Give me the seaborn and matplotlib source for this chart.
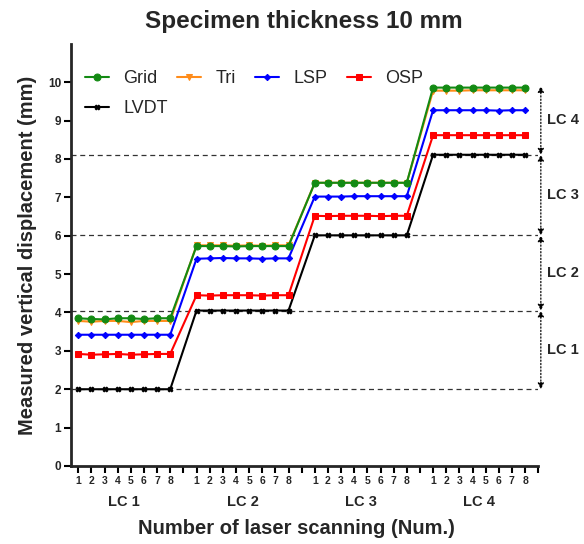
import numpy as np
import pandas as pd
import matplotlib
matplotlib.use("Agg")
import matplotlib.pyplot as plt
import seaborn as sns

# ---------------- data ----------------
load_cases = ["LC 1", "LC 2", "LC 3", "LC 4"]
scans = [1, 2, 3, 4, 5, 6, 7, 8]

grid = [3.85, 3.83, 3.82, 3.85, 3.85, 3.83, 3.85, 3.85,
        5.73, 5.73, 5.73, 5.72, 5.73, 5.73, 5.73, 5.73,
        7.38, 7.38, 7.38, 7.38, 7.38, 7.38, 7.38, 7.38,
        9.86, 9.86, 9.86, 9.86, 9.86, 9.86, 9.86, 9.86]
tri = [3.78, 3.76, 3.78, 3.78, 3.75, 3.78, 3.78, 3.78,
       5.75, 5.75, 5.75, 5.74, 5.75, 5.74, 5.75, 5.75,
       7.38, 7.38, 7.38, 7.38, 7.38, 7.38, 7.38, 7.38,
       9.78, 9.78, 9.78, 9.79, 9.79, 9.79, 9.79, 9.79]
lsp = [3.42, 3.42, 3.42, 3.42, 3.42, 3.42, 3.42, 3.42,
       5.40, 5.41, 5.42, 5.41, 5.41, 5.40, 5.41, 5.41,
       7.02, 7.02, 7.02, 7.03, 7.03, 7.03, 7.03, 7.03,
       9.27, 9.27, 9.27, 9.27, 9.27, 9.26, 9.27, 9.27]
osp = [2.92, 2.90, 2.91, 2.92, 2.90, 2.91, 2.92, 2.92,
       4.45, 4.44, 4.45, 4.45, 4.45, 4.44, 4.45, 4.45,
       6.52, 6.51, 6.52, 6.52, 6.52, 6.51, 6.52, 6.52,
       8.62, 8.62, 8.62, 8.62, 8.62, 8.62, 8.62, 8.62]
lvdt = [2.00, 2.00, 2.00, 2.00, 2.00, 2.00, 2.00, 2.00,
        4.05, 4.05, 4.05, 4.05, 4.05, 4.05, 4.05, 4.05,
        6.01, 6.01, 6.01, 6.01, 6.01, 6.01, 6.01, 6.01,
        8.11, 8.11, 8.11, 8.11, 8.11, 8.11, 8.11, 8.11]

series_names = ["Grid", "Tri", "LSP", "OSP", "LVDT"]
series_values = [grid, tri, lsp, osp, lvdt]
lc_levels = [2.00, 4.05, 6.01, 8.11, 9.90]   # bounds for the LC arrows

# ---------------- styling ----------------
colors = {"Grid": "#138a13", "Tri": "#ff8c1a", "LSP": "#0000ff",
          "OSP": "#ff0000", "LVDT": "#000000"}
markers = {"Grid": "o", "Tri": "v", "LSP": "D", "OSP": "s", "LVDT": "X"}
msizes = {"Grid": 5, "Tri": 5, "LSP": 3.2, "OSP": 5, "LVDT": 3.5}

sns.set_style("ticks")
plt.rcParams["font.family"] = ["Liberation Sans", "DejaVu Sans"]

# long-format table
rows = []
for name, vals in zip(series_names, series_values):
    for i, v in enumerate(vals):
        g, s = divmod(i, 8)
        rows.append({"series": name, "lc": g, "scan": scans[s],
                     "pos": g * 9 + scans[s], "value": v})
df = pd.DataFrame(rows)

fig = plt.figure(figsize=(5.84, 5.44), dpi=100)
ax = fig.add_axes([0.1216, 0.1434, 0.800, 0.776])

draw_order = ["LVDT", "OSP", "LSP", "Tri", "Grid"]
for name in draw_order:
    sub = df[df["series"] == name]
    sns.lineplot(data=sub, x="pos", y="value", ax=ax, color=colors[name],
                 marker=markers[name], markersize=msizes[name],
                 markeredgecolor=colors[name], linewidth=1.5,
                 label=name, legend=False, estimator=None, sort=True)

# dashed reference lines at LVDT levels
for lvl in lc_levels[:4]:
    ax.axhline(lvl, color="#333333", linestyle=(0, (4, 3)), linewidth=0.9, zorder=0)

ax.set_xlim(0.45, 35.8)
ax.set_ylim(0, 11)
ax.set_yticks(range(0, 11))
ax.set_yticklabels([str(v) for v in range(0, 11)], fontsize=8.5, fontweight="bold")

xt = list(range(1, 37))
xl = []
for p in xt:
    r = p % 9
    xl.append(str(r) if r != 0 else "")
ax.set_xticks(xt)
ax.set_xticklabels(xl, fontsize=7.5, fontweight="bold")

for side in ["top", "right"]:
    ax.spines[side].set_visible(False)
for side in ["left", "bottom"]:
    ax.spines[side].set_linewidth(2.0)
ax.tick_params(axis="both", width=1.5, length=5, pad=2, color="black")

# group labels
for g, lc in enumerate(load_cases):
    ax.text(g * 9 + 4.5, -0.76, lc, ha="center", va="top", fontsize=10.5,
            fontweight="bold", transform=ax.transData, clip_on=False)

ax.set_xlabel("Number of laser scanning (Num.)", fontsize=14.5, fontweight="bold")
ax.xaxis.set_label_coords(0.482, -0.125)
ax.set_ylabel("Measured vertical displacement (mm)", fontsize=14.5,
              fontweight="bold", labelpad=8)
fig.text(0.52, 0.961, "Specimen thickness 10 mm", fontsize=17.5,
         fontweight="bold", ha="center", va="center")

# double-headed dotted arrows with LC labels on the right
x_arrow = 36.2
for g, lc in enumerate(load_cases):
    lo, hi = lc_levels[g], lc_levels[g + 1]
    ax.annotate("", xy=(x_arrow, hi), xytext=(x_arrow, lo),
                xycoords="data", textcoords="data",
                arrowprops=dict(arrowstyle="<|-|>", linestyle=":", color="black",
                                linewidth=0.9, mutation_scale=9,
                                shrinkA=0, shrinkB=0),
                annotation_clip=False)
    ax.text(37.9, (lo + hi) / 2, lc, ha="center", va="center", fontsize=10.5,
            fontweight="bold", clip_on=False)

# legend: row 1 = Grid, Tri, LSP, OSP ; row 2 = LVDT
h, l = ax.get_legend_handles_labels()
hd = dict(zip(l, h))
row1 = ["Grid", "Tri", "LSP", "OSP"]
leg_kw = dict(loc="upper left", borderaxespad=0, frameon=False, fontsize=13,
              handlelength=1.3, columnspacing=1.1, handletextpad=0.8)
leg1 = ax.legend([hd[k] for k in row1], row1, ncol=4,
                 bbox_to_anchor=(0.015, 0.955), **leg_kw)
ax.add_artist(leg1)
ax.legend([hd["LVDT"]], ["LVDT"], ncol=1,
          bbox_to_anchor=(0.015, 0.884), **leg_kw)

fig.savefig("out.png", dpi=100)
